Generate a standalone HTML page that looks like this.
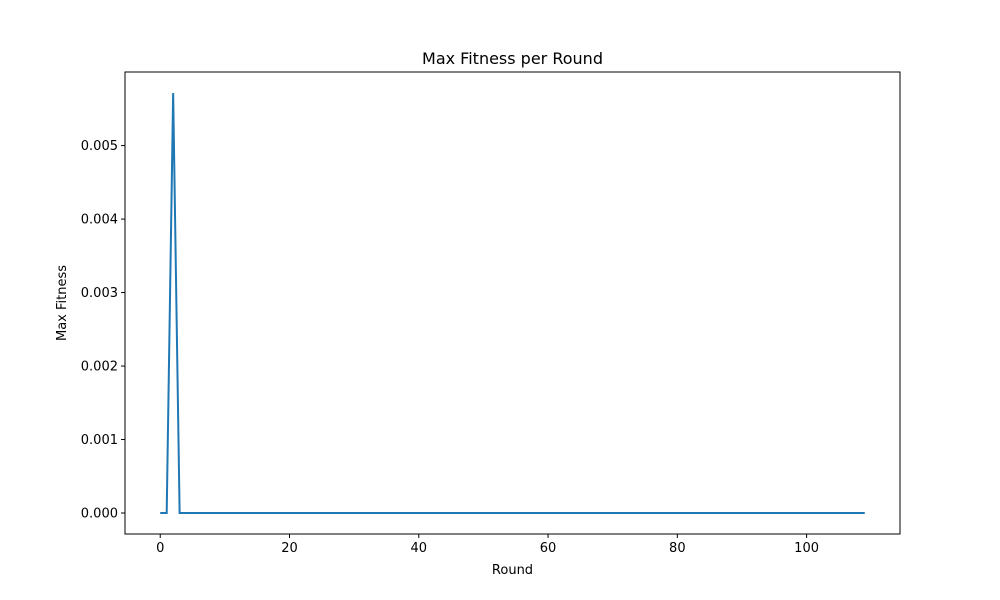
<!DOCTYPE html>
<html><head><meta charset="utf-8"><style>body{margin:0;background:#fff}svg{display:block;font-family:"DejaVu Sans","Liberation Sans",sans-serif}</style></head>
<body>
<svg id="chart" width="1000" height="600">
<rect width="1000" height="600" fill="#fff"/>
<text x="512.5" y="64" font-size="16" text-anchor="middle">Max Fitness per Round</text>
<text x="512.5" y="574" font-size="13" text-anchor="middle">Round</text>
<text transform="translate(66,303) rotate(-90)" font-size="13" text-anchor="middle">Max Fitness</text>
<g id="ticks"></g>
<polyline id="line" fill="none" stroke="#1f77b4" stroke-width="2"/>
<rect x="125" y="72" width="775" height="462" fill="none" stroke="#000" stroke-width="1"/>
</svg>
<script>
const peakRound = 2;
const peakValue = 0.005716;
const rounds = [];
const fitness = [];
for (let i = 0; i < 110; i++) { rounds.push(i); fitness.push(i === peakRound ? peakValue : 0); }
const xTicks = [0, 20, 40, 60, 80, 100];
const yTicks = [0, 0.001, 0.002, 0.003, 0.004, 0.005];
const yTickLabels = ["0.000", "0.001", "0.002", "0.003", "0.004", "0.005"];

const L = 125, R = 900, T = 72, B = 534;
const xmin = -5.45, xmax = 114.45, ymin = -0.0002858, ymax = 0.0060018;
const xs = v => L + (v - xmin) / (xmax - xmin) * (R - L);
const ys = v => B - (v - ymin) / (ymax - ymin) * (B - T);
const NS = "http://www.w3.org/2000/svg";
const g = document.getElementById('ticks');
function mk(tag, attrs, txt) { const e = document.createElementNS(NS, tag); for (const k in attrs) e.setAttribute(k, attrs[k]); if (txt !== undefined) e.textContent = txt; g.appendChild(e); return e; }
xTicks.forEach(t => {
  const x = xs(t);
  const l = mk('line', {x1: x, x2: x, y1: B, y2: B + 4, stroke: '#000'});
  
  
  const tx = mk('text', {x: x, y: B + 18, 'font-size': 13, 'text-anchor': 'middle'}, String(t));
  
  
});
yTicks.forEach((t, i) => {
  const y = ys(t);
  const l = mk('line', {x1: L - 4, x2: L, y1: y, y2: y, stroke: '#000'});
  
  
  const tx = mk('text', {x: L - 7, y: y + 4.5, 'font-size': 13, 'text-anchor': 'end'}, yTickLabels[i]);
  
  
});
document.getElementById('line').setAttribute('points', rounds.map((r, i) => xs(r).toFixed(2) + ',' + ys(fitness[i]).toFixed(2)).join(' '));
</script>
</body></html>
